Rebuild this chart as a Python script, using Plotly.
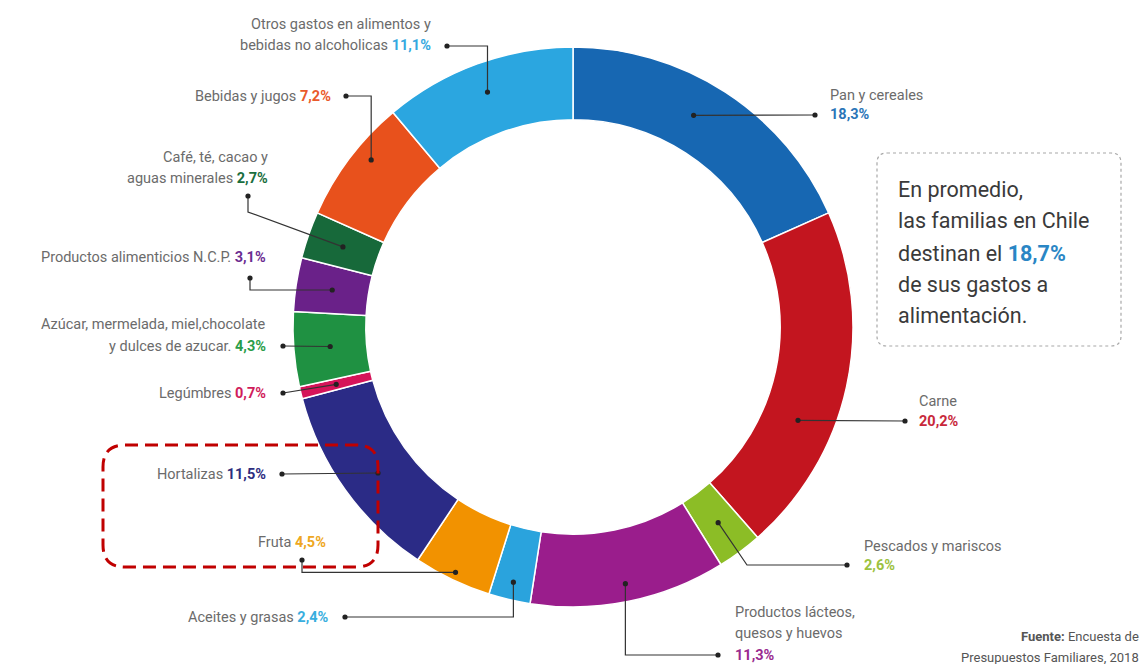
import math
import plotly.graph_objects as go

# ---------------- data ----------------
categories = ["Pan y cereales", "Carne", "Pescados y mariscos",
              "Productos lácteos, quesos y huevos", "Aceites y grasas", "Fruta",
              "Hortalizas", "Legúmbres", "Azúcar, mermelada, miel,chocolate y dulces de azucar.",
              "Productos alimenticios N.C.P.", "Café, té, cacao y aguas minerales",
              "Bebidas y jugos", "Otros gastos en alimentos y bebidas no alcoholicas"]
values = [18.3, 20.2, 2.6, 11.3, 2.4, 4.5, 11.5, 0.7, 4.3, 3.1, 2.7, 7.2, 11.1]
value_labels = ["18,3%", "20,2%", "2,6%", "11,3%", "2,4%", "4,5%", "11,5%",
                "0,7%", "4,3%", "3,1%", "2,7%", "7,2%", "11,1%"]
colors = ["#1767b2", "#c3151f", "#8cbd26", "#9a1d8c", "#2aa3dd", "#f29200",
          "#2b2b86", "#d51459", "#1f9142", "#6a2189", "#17693a", "#e8511c", "#2ba6e0"]
text_colors = ["#2a75b8", "#c8283a", "#9cc23e", "#9a2a8f", "#38aede", "#eea722",
               "#2e2d7f", "#d01c5b", "#2a9d49", "#6b2c91", "#1a6e3e", "#e95a2b", "#35a8e0"]

W, H = 1145, 664
CX, CY, R = 573, 327, 280
HOLE = 0.74

def X(px):
    return px / W

def Y(py):
    return 1 - py / H

total = sum(values)
starts = []
acc = 0
for v in values:
    starts.append(acc)
    acc += v

def slice_point(i, f, r):
    th = math.radians(360 * (starts[i] + f * values[i]) / total)
    return CX + r * math.sin(th), CY - r * math.cos(th)

fig = go.Figure()
fig.add_trace(go.Pie(
    labels=categories, values=values, sort=False, direction="clockwise",
    rotation=0, hole=HOLE, textinfo="none", hoverinfo="label+percent",
    marker=dict(colors=colors, line=dict(color="white", width=1.5)),
    domain=dict(x=[X(CX - R), X(CX + R)], y=[Y(CY + R), Y(CY - R)]),
    showlegend=False,
))

# label layout: index -> (lines, anchor, text_x, line_ys, dot(px,py), route, f, r)
MID = R * (1 + HOLE) / 2
labels = {
    0: (["Pan y cereales", "{p}"], "left", 828, [95, 115], (815, 115), "h", 0.45, MID),
    1: (["Carne", "{p}"], "left", 917, [401, 421], (905, 421), "h", 0.64, MID),
    2: (["Pescados y mariscos", "{p}"], "left", 862, [546, 565], (847, 565), "pesc", 0.5, MID),
    3: (["Productos lácteos,", "quesos y huevos", "{p}"], "left", 733, [612, 633, 655], (718, 655), "hv", 0.5, 262),
    4: (["Aceites y grasas {p}"], "right", 331, [617], (345, 617), "hv", 0.5, 262),
    5: (["Fruta {p}"], "right", 328, [542], (302, 560), "vh", 0.5, 272),
    6: (["Hortalizas {p}"], "right", 268, [474], (282, 474), "h", 0.47, MID),
    7: (["Legúmbres {p}"], "right", 268, [393], (283, 393), "h", 0.5, MID),
    8: (["Azúcar, mermelada, miel,chocolate", "y dulces de azucar. {p}"], "right", 268, [324, 346], (283, 346), "h", 0.5, MID),
    9: (["Productos alimenticios N.C.P. {p}"], "right", 268, [258], (250, 278), "vh", 0.5, MID),
    10: (["Café, té, cacao y", "aguas minerales {p}"], "right", 270, [158, 178], (248, 196), "cafe", 0.5, MID),
    11: (["Bebidas y jugos {p}"], "right", 333, [96], (346, 96), "hv", 0.6, 262),
    12: (["Otros gastos en alimentos y", "bebidas no alcoholicas {p}"], "right", 433, [24, 46], (447, 46), "hv", 0.5, 250),
}

shapes = []
annotations = []
LINE_C = "#333333"

def dot(px, py, r=2.6):
    return dict(type="circle", xref="paper", yref="paper", xsizemode="pixel",
                ysizemode="pixel", xanchor=X(px), yanchor=Y(py),
                x0=-r, x1=r, y0=-r, y1=r, fillcolor="#222222", line_width=0)

def path(points, color=LINE_C, width=1.2, dash="solid"):
    d = "M " + " L ".join(f"{X(a):.5f},{Y(b):.5f}" for a, b in points)
    return dict(type="path", xref="paper", yref="paper", path=d,
                line=dict(color=color, width=width, dash=dash))

for i, (lines, anchor, tx, ys, (dx, dy), route, f, r) in labels.items():
    sx, sy = slice_point(i, f, r)
    if route == "h":
        pts = [(dx, dy), (sx, sy)]
    elif route == "hv":
        pts = [(dx, dy), (sx, dy), (sx, sy)]
    elif route == "vh":
        pts = [(dx, dy), (dx, sy), (sx, sy)]
    elif route == "cafe":
        pts = [(dx, dy), (dx, dy + 16), (sx, sy)]
    else:  # pesc
        pts = [(dx, dy), (dx - 100, dy), (sx, sy)]
    shapes.append(path(pts))
    shapes.append(dot(dx, dy))
    shapes.append(dot(sx, sy))
    pct = f"<b><span style='color:{text_colors[i]}'>{value_labels[i]}</span></b>"
    for line, yy in zip(lines, ys):
        annotations.append(dict(
            text=line.replace("{p}", pct), x=X(tx), y=Y(yy), xref="paper", yref="paper",
            xanchor=anchor, yanchor="middle", showarrow=False,
            font=dict(family="Roboto", size=14.5, color="#6b6b6b")))

def rounded_rect(x0, y0, x1, y1, rad):
    pts = [
        f"M {X(x0 + rad)},{Y(y0)}", f"L {X(x1 - rad)},{Y(y0)}",
        f"Q {X(x1)},{Y(y0)} {X(x1)},{Y(y0 + rad)}", f"L {X(x1)},{Y(y1 - rad)}",
        f"Q {X(x1)},{Y(y1)} {X(x1 - rad)},{Y(y1)}", f"L {X(x0 + rad)},{Y(y1)}",
        f"Q {X(x0)},{Y(y1)} {X(x0)},{Y(y1 - rad)}", f"L {X(x0)},{Y(y0 + rad)}",
        f"Q {X(x0)},{Y(y0)} {X(x0 + rad)},{Y(y0)}", "Z",
    ]
    return " ".join(pts)

# info box
shapes.append(dict(type="path", xref="paper", yref="paper",
                   path=rounded_rect(877, 153, 1121, 346, 10),
                   line=dict(color="#a8a8a8", width=1.2, dash="dot")))
box_lines = ["En promedio,", "las familias en Chile",
             "destinan el <b><span style='color:#2a86c5'>18,7%</span></b>",
             "de sus gastos a", "alimentación."]
box_ys = [189, 221, 253, 284, 315]
for line, yy in zip(box_lines, box_ys):
    annotations.append(dict(text=line, x=X(896), y=Y(yy), xref="paper", yref="paper",
                            xanchor="left", yanchor="middle", showarrow=False,
                            font=dict(family="Roboto", size=21.5, color="#3a3a3a")))

# red dashed highlight box
shapes.append(dict(type="path", xref="paper", yref="paper",
                   path=rounded_rect(103, 445, 378, 567, 22),
                   line=dict(color="#c00000", width=3, dash="13px,7px")))

# source
for line, yy in zip(["<b>Fuente:</b> Encuesta de", "Presupuestos Familiares, 2018"], [636, 657]):
    annotations.append(dict(text=line, x=X(1141), y=Y(yy), xref="paper", yref="paper",
                            xanchor="right", yanchor="middle", showarrow=False,
                            font=dict(family="Roboto", size=13, color="#555555")))

fig.update_layout(width=W, height=H, margin=dict(l=0, r=0, t=0, b=0),
                  paper_bgcolor="white", plot_bgcolor="white",
                  shapes=shapes, annotations=annotations)
fig.write_html("out.html")
